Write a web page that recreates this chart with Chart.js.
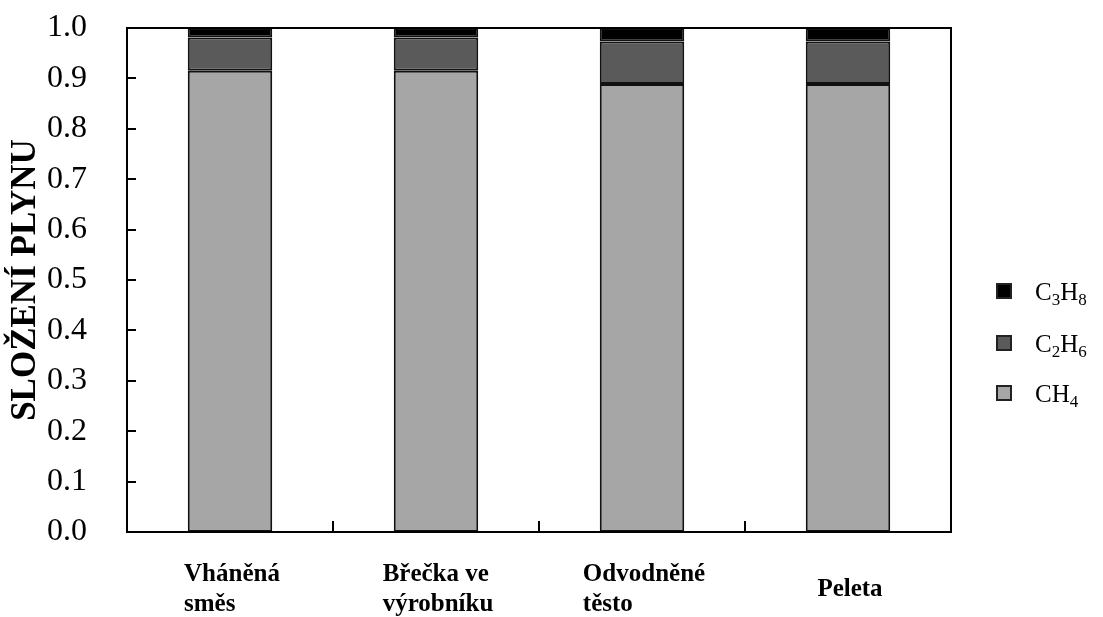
<!DOCTYPE html>
<html>
<head>
<meta charset="utf-8">
<script src="https://cdn.jsdelivr.net/npm/chart.js@4/dist/chart.umd.min.js"></script>
<style>
html,body{margin:0;padding:0;background:#fff;}
#wrap{width:1103px;height:617px;}
</style>
</head>
<body>
<div id="wrap"><canvas id="c" width="1103" height="617"></canvas></div>
<script>
const categories = [["Vháněná","směs"],["Břečka ve","výrobníku"],["Odvodněné","těsto"],["Peleta"]];
const ch4Values  = [0.915, 0.915, 0.889, 0.889];
const c2h6Values = [0.066, 0.066, 0.084, 0.084];
const c3h8Values = [0.019, 0.019, 0.027, 0.027];
const yTicks = [0.0,0.1,0.2,0.3,0.4,0.5,0.6,0.7,0.8,0.9,1.0];
const seriesNames = [{base:"C",sub:"3",base2:"H",sub2:"8"},{base:"C",sub:"2",base2:"H",sub2:"6"},{base:"CH",sub:"4",base2:"",sub2:""}];
const yTitle = "SLOŽENÍ PLYNU";

const colors = {ch4:"#a6a6a6", c2h6:"#5a5a5a", c3h8:"#000000"};

const decor = {
  id:'decor',
  afterDraw(chart){
    const ctx = chart.ctx;
    const a = chart.chartArea;
    const xs = chart.scales.x, ys = chart.scales.y;
    ctx.save();
    // frame
    ctx.strokeStyle = "#000"; ctx.lineWidth = 2;
    ctx.strokeRect(a.left, a.top, a.right - a.left, a.bottom - a.top);
    // y ticks inward
    ctx.lineWidth = 2;
    yTicks.forEach(v=>{
      const y = Math.round(ys.getPixelForValue(v));
      ctx.beginPath(); ctx.moveTo(a.left, y); ctx.lineTo(a.left + 9, y); ctx.stroke();
    });
    // x ticks inward at category boundaries
    const n = categories.length;
    const step = (a.right - a.left) / n;
    for (let i = 1; i < n; i++){
      const x = Math.round(xs.getPixelForValue(i) - step/2);
      ctx.beginPath(); ctx.moveTo(x, a.bottom); ctx.lineTo(x, a.bottom - 11); ctx.stroke();
    }
    // x labels: left-aligned blocks, vertically centered
    ctx.fillStyle = "#000";
    ctx.font = "bold 25px 'Liberation Serif', serif";
    ctx.textBaseline = "alphabetic";
    ctx.textAlign = "left";
    const lineH = 30;
    const midY = 588;
    categories.forEach((lines, i)=>{
      const cx = xs.getPixelForValue(i);
      const w = Math.max(...lines.map(l=>ctx.measureText(l).width));
      const x0 = cx - w/2 + 2;
      const totalH = lines.length * lineH;
      lines.forEach((l, k)=>{
        const yb = midY - totalH/2 + k*lineH + lineH/2 + 8;
        ctx.fillText(l, x0, yb);
      });
    });
    // legend
    const legendItems = [
      {col: colors.c3h8, t: seriesNames[0]},
      {col: colors.c2h6, t: seriesNames[1]},
      {col: colors.ch4,  t: seriesNames[2]}
    ];
    const ly = [291, 343, 393];
    legendItems.forEach((it, k)=>{
      const cy = ly[k];
      ctx.fillStyle = it.col;
      ctx.fillRect(996, cy - 8, 16, 16);
      ctx.strokeStyle = "#222"; ctx.lineWidth = 2;
      ctx.strokeRect(997, cy - 7, 14, 14);
      let x = 1035;
      const base = cy + 9;
      ctx.fillStyle = "#000";
      const big = "25px 'Liberation Serif', serif", small = "17px 'Liberation Serif', serif";
      const parts = [[it.t.base,big,0],[it.t.sub,small,5],[it.t.base2,big,0],[it.t.sub2,small,5]];
      parts.forEach(p=>{
        if(!p[0]) return;
        ctx.font = p[1];
        ctx.fillText(p[0], x, base + p[2]);
        x += ctx.measureText(p[0]).width;
      });
    });
    ctx.restore();
  }
};

new Chart(document.getElementById('c'), {
  type:'bar',
  data:{
    labels: categories,
    datasets:[
      {label:"CH4", data: ch4Values, backgroundColor: colors.ch4, borderColor:"#111", borderWidth:2, borderSkipped:false},
      {label:"C2H6", data: c2h6Values, backgroundColor: colors.c2h6, borderColor:"#111", borderWidth:2, borderSkipped:false},
      {label:"C3H8", data: c3h8Values, backgroundColor: colors.c3h8, borderColor:"#111", borderWidth:2, borderSkipped:false}
    ]
  },
  options:{
    responsive:false,
    animation:false,
    layout:{padding:{left:0, top:28, right:152, bottom:0}},
    datasets:{bar:{barPercentage:0.41, categoryPercentage:1.0}},
    plugins:{legend:{display:false}, tooltip:{enabled:false}},
    scales:{
      x:{
        stacked:true,
        grid:{display:false, drawTicks:false},
        border:{display:false},
        ticks:{display:false},
        afterFit(s){ s.height = 85; s.paddingLeft = 0; s.paddingRight = 0; }
      },
      y:{
        stacked:true,
        min:0, max:1,
        afterBuildTicks(s){ s.ticks = yTicks.map(v=>({value:v})); },
        grid:{display:false, drawTicks:false},
        border:{display:false},
        ticks:{
          color:"#000",
          padding:40,
          font:{family:"'Liberation Serif', serif", size:32},
          callback:(v)=>Number(v).toFixed(1)
        },
        title:{
          display:true, text:yTitle, color:"#000",
          font:{family:"'Liberation Serif', serif", size:35, weight:'bold'},
          padding:{top:5, bottom:0}
        },
        afterFit(s){ s.width = 127; s.paddingTop = 0; s.paddingBottom = 0; }
      }
    }
  },
  plugins:[decor]
});
</script>
</body>
</html>
